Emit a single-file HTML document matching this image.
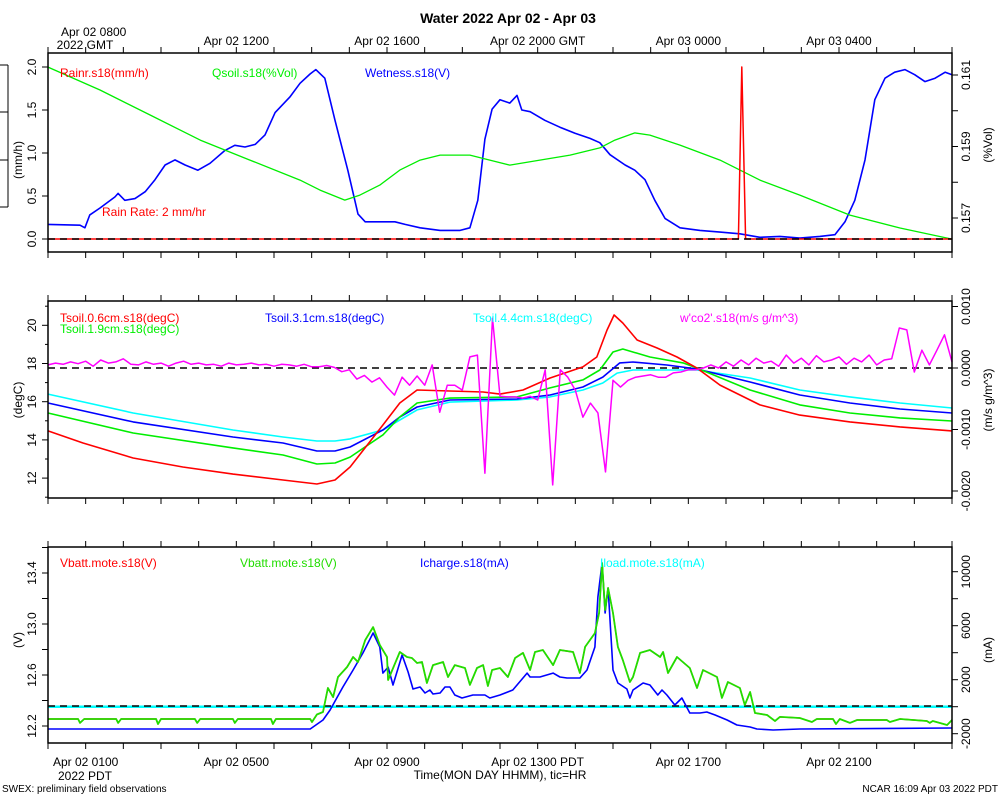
<!DOCTYPE html>
<html><head><meta charset="utf-8"><style>
html,body{margin:0;padding:0;background:#fff;}
svg{display:block;font-family:"Liberation Sans",sans-serif;}
</style></head><body>
<svg id="chart" width="1000" height="800" viewBox="0 0 1000 800" xmlns="http://www.w3.org/2000/svg">
<text x="508" y="23" font-size="14" font-weight="bold" text-anchor="middle">Water 2022 Apr 02 - Apr 03</text>
<g stroke="#000" stroke-width="1">
<line x1="8" y1="65" x2="8" y2="207"/><line x1="0" y1="65" x2="8" y2="65"/><line x1="0" y1="112" x2="8" y2="112"/><line x1="0" y1="160" x2="8" y2="160"/><line x1="0" y1="207" x2="8" y2="207"/>
</g>
<g id="layer"></g>
<text x="102" y="216" font-size="12" fill="#ff0000">Rain Rate: 2 mm/hr</text>
<text x="60" y="77" font-size="12" fill="#ff0000">Rainr.s18(mm/h)</text>
<text x="212" y="77" font-size="12" fill="#00ee00">Qsoil.s18(%Vol)</text>
<text x="365" y="77" font-size="12" fill="#0000ff">Wetness.s18(V)</text>
<text x="60" y="322" font-size="12" fill="#ff0000">Tsoil.0.6cm.s18(degC)</text>
<text x="60" y="333" font-size="12" fill="#00ee00">Tsoil.1.9cm.s18(degC)</text>
<text x="265" y="322" font-size="12" fill="#0000ff">Tsoil.3.1cm.s18(degC)</text>
<text x="473" y="322" font-size="12" fill="#00ffff">Tsoil.4.4cm.s18(degC)</text>
<text x="680" y="322" font-size="12" fill="#ff00ff">w'co2'.s18(m/s g/m^3)</text>
<text x="60" y="567" font-size="12" fill="#ff0000">Vbatt.mote.s18(V)</text>
<text x="240" y="567" font-size="12" fill="#22dd00">Vbatt.mote.s18(V)</text>
<text x="420" y="567" font-size="12" fill="#0000ff">Icharge.s18(mA)</text>
<text x="600" y="567" font-size="12" fill="#00ffff">Iload.mote.s18(mA)</text>
<text x="500" y="779" font-size="12" text-anchor="middle">Time(MON DAY HHMM), tic=HR</text>
<text x="85" y="780" font-size="12" text-anchor="middle">2022 PDT</text>
<text x="85" y="49" font-size="12" text-anchor="middle">2022 GMT</text>
<text x="2" y="792" font-size="10">SWEX: preliminary field observations</text>
<text x="998" y="792" font-size="10" text-anchor="end">NCAR 16:09 Apr 03 2022 PDT</text>
</svg>
<script>
// ---- data (time in hours PDT from Apr 02 0000) ----
const wetT = [0,0.85,0.98,1.11,1.38,1.78,1.86,2.04,2.31,2.58,2.84,3.11,3.37,3.64,3.98,4.30,4.70,4.96,5.23,5.50,5.76,6.03,6.42,6.69,6.96,7.11,7.35,7.62,7.96,8.23,8.42,8.81,9.21,9.48,9.88,10.41,10.94,11.20,11.41,11.60,11.79,12.0,12.26,12.45,12.58,12.80,13.19,13.59,13.99,14.39,14.65,14.92,15.32,15.58,15.85,16.11,16.38,16.78,17.31,17.84,18.37,18.90,19.43,19.96,20.49,20.89,21.16,21.42,21.69,21.95,22.22,22.48,22.75,23.01,23.28,23.55,23.82,24];
const wetV = [0.17,0.16,0.13,0.28,0.36,0.49,0.53,0.45,0.47,0.55,0.69,0.86,0.92,0.86,0.80,0.88,1.03,1.09,1.07,1.10,1.21,1.47,1.65,1.81,1.92,1.97,1.87,1.38,0.80,0.29,0.20,0.20,0.20,0.17,0.13,0.10,0.10,0.13,0.45,1.16,1.51,1.62,1.58,1.67,1.50,1.48,1.38,1.30,1.23,1.17,1.12,0.98,0.86,0.80,0.69,0.45,0.24,0.13,0.10,0.08,0.06,0.02,0.03,0.01,0.03,0.05,0.20,0.45,0.92,1.62,1.87,1.94,1.97,1.91,1.83,1.87,1.94,1.91];
const qsoilT = [0,1.38,2.71,4.04,5.36,6.69,7.22,7.88,8.28,8.81,9.34,9.88,10.41,11.20,11.73,12.26,13.06,13.86,14.65,15.05,15.58,15.98,16.78,17.84,18.90,19.96,21.29,22.62,24];
const qsoilV = [0.16122,0.16058,0.15988,0.15918,0.15862,0.15806,0.15778,0.15750,0.15764,0.15792,0.15834,0.15862,0.15876,0.15876,0.15862,0.15848,0.15862,0.15876,0.15896,0.15918,0.15938,0.15932,0.15904,0.15862,0.15806,0.15764,0.15708,0.15672,0.15641];
const rainT = [0,18.33,18.42,18.52,24];
const rainV = [0,0,2.0,0,0];

const tRedT = [0,0.93,2.26,3.58,4.91,6.24,7.14,7.62,8.02,8.89,9.34,9.80,10.67,11.55,12.0,12.61,13.33,14.20,14.57,14.84,15.03,15.26,15.64,16.17,16.70,17.23,17.84,18.90,19.96,21.29,22.62,24];
const tRedV = [14.47,13.84,13.05,12.58,12.21,11.90,11.69,11.90,12.58,14.78,15.93,16.61,16.56,16.51,16.40,16.61,17.24,17.82,18.34,19.75,20.54,20.12,19.23,18.81,18.34,17.76,16.87,15.83,15.30,14.94,14.68,14.47];
const tGrnT = [0,2.26,4.91,6.24,7.14,7.62,8.02,8.89,9.34,9.80,10.67,12.45,13.33,14.20,14.65,15.00,15.26,15.98,16.86,17.23,18.64,19.96,21.29,22.62,24];
const tGrnV = [15.41,14.36,13.58,13.21,12.74,12.79,13.10,14.26,15.20,15.93,16.19,16.25,16.72,17.14,17.66,18.60,18.76,18.34,18.03,17.76,16.61,15.83,15.41,15.15,14.99];
const tBluT = [0,2.26,4.91,6.24,7.14,7.62,8.02,8.89,9.34,9.80,10.67,12.45,13.33,14.20,14.73,15.18,15.53,16.43,17.23,18.64,19.96,21.29,22.62,24];
const tBluV = [15.93,14.94,14.15,13.84,13.42,13.42,13.63,14.52,15.20,15.72,16.09,16.14,16.35,16.77,17.29,18.03,18.08,17.92,17.71,17.03,16.35,15.93,15.62,15.41];
const tCynT = [0,2.26,4.91,6.24,7.14,7.62,8.02,8.89,9.34,9.80,10.67,12.45,13.33,14.20,14.73,15.11,15.53,17.23,18.64,19.96,21.29,22.62,24];
const tCynV = [16.40,15.41,14.52,14.15,13.94,13.94,14.05,14.52,15.04,15.57,15.98,16.09,16.25,16.61,16.98,17.50,17.66,17.66,17.24,16.61,16.25,15.93,15.67];
// w'co2' values every 0.2 h, units of 1e-4 m/s g/m^3
const wco2Step = 0.2;
const wco2 = [0.5,0.8,0.6,1.0,0.7,1.1,0.3,1.3,0.8,1.0,1.5,0.6,0.5,1.0,0.6,0.8,0.3,0.8,1.1,0.6,0.8,0.5,0.6,0.3,0.8,0.5,0.6,0.8,0.5,0.6,0.3,0.6,0.5,0.3,0.6,0.2,0.2,0.4,0.1,
 -0.6,-0.3,-1.8,-1.2,-2.3,-1.6,-3.1,-4.4,-1.5,-2.8,-1.3,-2.8,0.5,-7.2,-2.8,-2.8,-3.6,1.8,2.1,-17.1,8.1,-4.6,-4.7,-4.7,-4.9,-4.6,-5.2,-0.3,-19.0,-0.3,-1.5,-3.6,-8.0,-5.7,-7.3,-16.9,-2.0,-3.1,-2.0,-1.5,-1.3,-1.1,-1.5,-1.5,-0.8,-0.65,-0.3,-0.3,0,0.5,0,1.0,0.3,1.3,0.5,1.6,0.8,1.1,0.3,2.1,0.8,1.6,0.5,2.0,1.0,1.3,1.8,0.6,1.6,1.0,2.1,0.5,1.3,1.5,6.5,6.2,-0.65,2.9,0.5,2.9,5.4,1.0];

const vbT = [0,0.80,0.85,0.96,1.81,1.86,1.94,2.87,2.92,3.00,3.90,3.96,4.04,4.91,4.96,5.04,5.92,5.97,6.05,6.96,7.01,7.14,7.30,7.43,7.57,7.70,7.94,8.10,8.23,8.42,8.63,8.81,9.00,9.03,9.34,9.53,9.66,9.80,9.93,10.06,10.22,10.49,10.62,10.80,11.07,11.20,11.39,11.55,11.68,11.79,12.0,12.21,12.40,12.61,12.80,12.93,13.14,13.41,13.59,13.94,14.12,14.26,14.52,14.63,14.71,14.79,14.87,15.0,15.13,15.26,15.45,15.53,15.72,15.98,16.25,16.33,16.46,16.70,17.04,17.23,17.39,17.76,17.89,18.05,18.37,18.50,18.64,18.77,19.09,19.30,19.43,19.96,20.28,20.41,20.84,20.92,21.02,21.29,21.48,22.27,22.35,22.62,23.33,23.41,23.49,23.87,24];
const vbV = [12.255,12.255,12.224,12.255,12.255,12.224,12.255,12.255,12.216,12.255,12.255,12.224,12.255,12.255,12.224,12.255,12.255,12.216,12.255,12.255,12.231,12.29,12.31,12.498,12.427,12.584,12.663,12.741,12.702,12.874,12.976,12.835,12.741,12.561,12.780,12.741,12.733,12.694,12.702,12.537,12.678,12.702,12.584,12.678,12.655,12.522,12.655,12.678,12.514,12.639,12.655,12.584,12.733,12.773,12.639,12.780,12.796,12.678,12.796,12.780,12.616,12.820,12.929,13.086,13.478,13.110,13.282,13.086,12.820,12.718,12.545,12.584,12.773,12.796,12.741,12.780,12.616,12.741,12.655,12.498,12.639,12.584,12.420,12.545,12.498,12.365,12.467,12.302,12.286,12.239,12.271,12.263,12.231,12.255,12.255,12.216,12.255,12.224,12.247,12.247,12.231,12.255,12.239,12.224,12.239,12.208,12.247];
const icT = [0,6.96,7.30,7.49,7.83,8.10,8.36,8.63,8.81,8.89,9.03,9.16,9.40,9.56,9.69,9.88,10.01,10.14,10.22,10.41,10.54,10.67,10.80,10.99,11.28,11.60,11.73,12.0,12.34,12.72,12.80,13.06,13.41,13.59,13.78,14.12,14.31,14.52,14.60,14.71,14.79,14.87,15.0,15.13,15.37,15.45,15.53,15.80,15.98,16.19,16.30,16.43,16.64,16.83,17.04,17.31,17.49,17.71,18.03,18.29,18.64,18.82,19.25,19.96,24];
const icV = [-1652,-1652,-985,-244,1459,2718,3978,5459,4422,2489,2933,1607,3830,2570,1311,1459,1015,1237,941,1015,1459,1459,867,644,867,867,644,867,1237,2489,2200,2200,2489,2200,2126,2126,2718,4422,8126,10644,6941,8793,2718,1756,1311,644,1237,1756,1607,867,1237,867,126,644,-467,-467,-393,-615,-985,-1355,-1504,-1652,-1726,-1652,-1578];
const iloadT = [0,24];
const iloadV = [0,0];

const leftTicks1 = ["0.0","0.5","1.0","1.5","2.0"];
const rightTicks1 = ["0.157","0.159","0.161"];
const leftTicks2 = ["12","14","16","18","20"];
const rightTicks2 = ["-0.0020","-0.0010","0.0000","0.0010"];
const leftTicks3 = ["12.2","12.6","13.0","13.4"];
const rightTicks3 = ["-2000","2000","6000","10000"];
const bottomLabels = ["Apr 02 0100","Apr 02 0500","Apr 02 0900","Apr 02 1300 PDT","Apr 02 1700","Apr 02 2100"];
const topLabels = ["Apr 02 0800","Apr 02 1200","Apr 02 1600","Apr 02 2000 GMT","Apr 03 0000","Apr 03 0400"];
const labelHours = [1,5,9,13,17,21];

// ---- scales ----
const X0 = 48, X1 = 952;
const x = h => X0 + h * (X1 - X0) / 24;
const y1 = v => 239 - v * 86;
const y1r = q => 75 + (0.161 - q) * 35750;
const y2 = t => 363.5 - (t - 18) * 19.1;
const y2r = w => 368 - w * 61500;
const y3 = v => 726 - (v - 12.2) * 127.5;
const y3r = i => 706.7 - i * 0.0135;
const panels = [{top:53,bot:252},{top:301,bot:498},{top:547,bot:743}];

const NS = "http://www.w3.org/2000/svg";
const layer = document.getElementById("layer");
function mk(tag, attrs, parent) {
  const e = document.createElementNS(NS, tag);
  for (const k in attrs) e.setAttribute(k, attrs[k]);
  (parent || layer).appendChild(e);
  return e;
}
function series(ts, vs, fx, fy, color, w, name) {
  const pts = ts.map((t, i) => fx(t).toFixed(1) + "," + fy(vs[i]).toFixed(1)).join(" ");
  const e = mk("polyline", {points: pts, fill: "none", stroke: color, "stroke-width": w, "stroke-linejoin": "round"});
  
  
  return e;
}
function dash(yy, name) {
  const e = mk("line", {x1: X0, x2: X1, y1: yy, y2: yy, stroke: "#000", "stroke-width": 1.5, "stroke-dasharray": "7,5"});
  
  
}
function txt(s, xx, yy, size, anchor, rot, name, color) {
  const e = mk("text", {x: xx, y: yy, "font-size": size, "text-anchor": anchor || "start", fill: color || "#000"});
  if (rot) e.setAttribute("transform", "rotate(" + rot + " " + xx + " " + yy + ")");
  e.textContent = s;
  
  
  return e;
}
function tickL(yy, len) { mk("line", {x1: X0 - len, x2: X0, y1: yy, y2: yy, stroke: "#000", "stroke-width": 1}); }
function tickR(yy, len) { mk("line", {x1: X1, x2: X1 + len, y1: yy, y2: yy, stroke: "#000", "stroke-width": 1}); }

// ---- panel 1 ----
series(wetT, wetV, x, y1, "#0000ff", 1.6, "wetness-line");
series(qsoilT, qsoilV, x, y1r, "#00ee00", 1.3, "qsoil-line");
series(rainT, rainV, x, y1, "#ff0000", 1.5, "rain-line");
dash(239, "rain-zero-line");
// ---- panel 2 ----
dash(368, "wco2-zero-line");
series(tCynT, tCynV, x, y2, "#00ffff", 1.6, "tsoil-44-line");
series(tBluT, tBluV, x, y2, "#0000ff", 1.6, "tsoil-31-line");
series(tGrnT, tGrnV, x, y2, "#00ee00", 1.6, "tsoil-19-line");
series(tRedT, tRedV, x, y2, "#ff0000", 1.6, "tsoil-06-line");
series(wco2.map((_, i) => i * wco2Step), wco2, x, v => y2r(v * 1e-4), "#ff00ff", 1.5, "wco2-line");
// ---- panel 3 ----
series(iloadT, iloadV, x, y3r, "#00ffff", 2.5, "iload-line");
dash(706, "iload-zero-line");
series(icT, icV, x, y3r, "#0000ff", 1.6, "icharge-line");
series(vbT, vbV, x, y3, "#ff0000", 1.4, "vbatt-red-line");
series(vbT, vbV, x, y3, "#22dd00", 1.8, "vbatt-green-line");

// ---- frames & time ticks ----
panels.forEach((p, i) => {
  const r = mk("rect", {x: X0, y: p.top, width: X1 - X0, height: p.bot - p.top, fill: "none", stroke: "#000", "stroke-width": 1.5});
  
  
  for (let h = 0; h <= 24; h++) {
    const xx = x(h);
    mk("line", {x1: xx, x2: xx, y1: p.top - 6, y2: p.top, stroke: "#000", "stroke-width": 1});
    mk("line", {x1: xx, x2: xx, y1: p.bot, y2: p.bot + 6, stroke: "#000", "stroke-width": 1});
  }
});
labelHours.forEach((h, i) => {
  txt(bottomLabels[i], x(h), 762, 12, "middle", 0, "x-tick-label-bottom");
  txt(topLabels[i], x(h) + (i === 0 ? 8 : 0), i === 0 ? 32 : 41, 12, "middle", 0, "x-tick-label-top");
});

// ---- y axes ----
leftTicks1.forEach(s => { const yy = y1(parseFloat(s)); tickL(yy, 6); txt(s, 32, yy, 12, "middle", -90, "y-tick-label-left-1"); });
for (let q = 0.157; q <= 0.1615; q += 0.001) tickR(y1r(q), 6);
rightTicks1.forEach(s => { const yy = y1r(parseFloat(s)); txt(s, 966, yy, 12, "middle", -90, "y-tick-label-right-1"); });
for (let t = 11; t <= 21; t++) tickL(y2(t), t % 2 ? 3 : 6);
leftTicks2.forEach(s => { const yy = y2(parseFloat(s)); txt(s, 32, yy, 12, "middle", -90, "y-tick-label-left-2"); });
rightTicks2.forEach(s => { const yy = y2r(parseFloat(s)); tickR(yy, 6); txt(s, 966, yy, 12, "middle", -90, "y-tick-label-right-2"); });
for (let v = 12.2; v <= 13.61; v += 0.2) tickL(y3(v), 6);
leftTicks3.forEach(s => { const yy = y3(parseFloat(s)); txt(s, 32, yy, 12, "middle", -90, "y-tick-label-left-3"); });
for (let i = -2000; i <= 10000; i += 2000) tickR(y3r(i), 6);
rightTicks3.forEach(s => { const yy = y3r(parseFloat(s)); txt(s, 966, yy, 12, "middle", -90, "y-tick-label-right-3"); });

// axis titles
txt("(mm/h)", 18, 160, 12, "middle", -90, "y-axis-title-left-1");
txt("(%Vol)", 988, 145, 12, "middle", -90, "y-axis-title-right-1");
txt("(degC)", 18, 400, 12, "middle", -90, "y-axis-title-left-2");
txt("(m/s g/m^3)", 988, 400, 12, "middle", -90, "y-axis-title-right-2");
txt("(V)", 18, 640, 12, "middle", -90, "y-axis-title-left-3");
txt("(mA)", 988, 650, 12, "middle", -90, "y-axis-title-right-3");
document.querySelectorAll("#layer text").forEach(t => t.setAttribute("dominant-baseline", "central"));
</script>
</body></html>
